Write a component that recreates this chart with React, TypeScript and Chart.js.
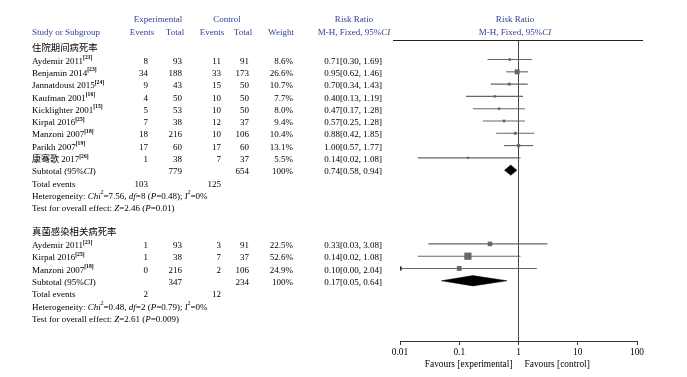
import React, { useEffect, useRef } from "react";
import { Chart, registerables } from "chart.js";

Chart.register(...registerables);

// ---------- DATA ----------
const group1Title = "住院期间病死率";
const group1Studies = ["Aydemir 2011", "Benjamin 2014", "Jannatdoust 2015", "Kaufman 2001", "Kicklighter 2001", "Kirpal 2016", "Manzoni 2007", "Parikh 2007", "康骞歌 2017"];
const group1Refs = ["21", "23", "24", "16", "15", "25", "18", "19", "26"];
const group1ExpEvents = [8, 34, 9, 4, 5, 7, 18, 17, 1];
const group1ExpTotal = [93, 188, 43, 50, 53, 38, 216, 60, 38];
const group1CtrlEvents = [11, 33, 15, 10, 10, 12, 10, 17, 7];
const group1CtrlTotal = [91, 173, 50, 50, 50, 37, 106, 60, 37];
const group1Weight = [8.6, 26.6, 10.7, 7.7, 8.0, 9.4, 10.4, 13.1, 5.5];
const group1RR = [0.71, 0.95, 0.70, 0.40, 0.47, 0.57, 0.88, 1.00, 0.14];
const group1Lo = [0.30, 0.62, 0.34, 0.13, 0.17, 0.25, 0.42, 0.57, 0.02];
const group1Hi = [1.69, 1.46, 1.43, 1.19, 1.28, 1.28, 1.85, 1.77, 1.08];
const group1Subtotal = { exp: 779, ctrl: 654, rr: 0.74, lo: 0.58, hi: 0.94, expEv: 103, ctrlEv: 125 };
const group1Het = { chi: "7.56", df: "8", p: "0.48", i2: "0" };
const group1Test = { z: "2.46", p: "0.01" };

const group2Title = "真菌感染相关病死率";
const group2Studies = ["Aydemir 2011", "Kirpal 2016", "Manzoni 2007"];
const group2Refs = ["21", "25", "18"];
const group2ExpEvents = [1, 1, 0];
const group2ExpTotal = [93, 38, 216];
const group2CtrlEvents = [3, 7, 2];
const group2CtrlTotal = [91, 37, 106];
const group2Weight = [22.5, 52.6, 24.9];
const group2RR = [0.33, 0.14, 0.10];
const group2Lo = [0.03, 0.02, 0.00];
const group2Hi = [3.08, 1.08, 2.04];
const group2Subtotal = { exp: 347, ctrl: 234, rr: 0.17, lo: 0.05, hi: 0.64, expEv: 2, ctrlEv: 12 };
const group2Het = { chi: "0.48", df: "2", p: "0.79", i2: "0" };
const group2Test = { z: "2.61", p: "0.009" };

const axisTicks = [0.01, 0.1, 1, 10, 100];
const axisTickLabels = ["0.01", "0.1", "1", "10", "100"];
const favoursLeft = "Favours [experimental]";
const favoursRight = "Favours [control]";

// ---------- LAYOUT ----------
const FONT = '"Liberation Serif", "Noto Sans CJK SC", serif';
const BLUE = "#2f3f96";
const FS = 9;
const X_MIN = 0.01;
const X_MAX = 100;

const groups = [
  { title: group1Title, start: 0, studies: group1Studies, refs: group1Refs, ee: group1ExpEvents, et: group1ExpTotal, ce: group1CtrlEvents, ct: group1CtrlTotal, w: group1Weight, rr: group1RR, lo: group1Lo, hi: group1Hi, sub: group1Subtotal, het: group1Het, test: group1Test },
  { title: group2Title, start: 15, studies: group2Studies, refs: group2Refs, ee: group2ExpEvents, et: group2ExpTotal, ce: group2CtrlEvents, ct: group2CtrlTotal, w: group2Weight, rr: group2RR, lo: group2Lo, hi: group2Hi, sub: group2Subtotal, het: group2Het, test: group2Test },
];

const COL = { study: 32, ee: 148, et: 182, ce: 221, ct: 249, w: 293, rr: 382 };

type Seg = { t: string; i?: boolean; sup?: boolean; b?: boolean };

function drawRich(ctx: CanvasRenderingContext2D, x: number, y: number, segs: Seg[], align: string, size: number, color: string) {
  const fontFor = (s: Seg) => `${s.i ? "italic " : ""}${s.b ? "bold " : ""}${s.sup ? (size * 0.62).toFixed(2) : size}px ${FONT}`;
  let w = 0;
  for (const s of segs) {
    ctx.font = fontFor(s);
    w += ctx.measureText(s.t).width;
  }
  let cx = align === "left" ? x : align === "right" ? x - w : x - w / 2;
  ctx.fillStyle = color;
  ctx.textBaseline = "middle";
  ctx.textAlign = "left";
  for (const s of segs) {
    ctx.font = fontFor(s);
    ctx.fillText(s.t, cx, s.sup ? y - size * 0.4 : y);
    cx += ctx.measureText(s.t).width;
  }
}

const fmt2 = (v: number) => v.toFixed(2);
const rrText = (r: number, l: number, h: number) => `${fmt2(r)}[${fmt2(l)}, ${fmt2(h)}]`;

const tablePlugin = {
  id: "forestTable",
  afterDraw(chart: any) {
    const ctx: CanvasRenderingContext2D = chart.ctx;
    const ys = chart.scales.y;
    const xs = chart.scales.x;
    const area = chart.chartArea;
    const rowY = (r: number) => ys.getPixelForValue(r) + 1.8;
    ctx.save();

    // headers
    const h1 = 20, h2 = 33;
    drawRich(ctx, 158, h1, [{ t: "Experimental" }], "center", FS, BLUE);
    drawRich(ctx, 227, h1, [{ t: "Control" }], "center", FS, BLUE);
    drawRich(ctx, 354, h1, [{ t: "Risk Ratio" }], "center", FS, BLUE);
    drawRich(ctx, 515, h1, [{ t: "Risk Ratio" }], "center", FS, BLUE);
    drawRich(ctx, COL.study, h2, [{ t: "Study or Subgroup" }], "left", FS, BLUE);
    drawRich(ctx, 142, h2, [{ t: "Events" }], "center", FS, BLUE);
    drawRich(ctx, 175, h2, [{ t: "Total" }], "center", FS, BLUE);
    drawRich(ctx, 212, h2, [{ t: "Events" }], "center", FS, BLUE);
    drawRich(ctx, 243, h2, [{ t: "Total" }], "center", FS, BLUE);
    drawRich(ctx, 281, h2, [{ t: "Weight" }], "center", FS, BLUE);
    drawRich(ctx, 354, h2, [{ t: "M-H, Fixed, 95%" }, { t: "CI", i: true }], "center", FS, BLUE);
    drawRich(ctx, 515, h2, [{ t: "M-H, Fixed, 95%" }, { t: "CI", i: true }], "center", FS, BLUE);

    // header rule
    ctx.strokeStyle = "#222";
    ctx.lineWidth = 1.2;
    ctx.beginPath();
    ctx.moveTo(area.left - 7, Math.round(area.top) + 0.5);
    ctx.lineTo(area.right + 6, Math.round(area.top) + 0.5);
    ctx.stroke();

    const K = "#000";
    for (const g of groups) {
      drawRich(ctx, COL.study, rowY(g.start) - 0.5, [{ t: g.title }], "left", 9.4, K);
      g.studies.forEach((name, i) => {
        const y = rowY(g.start + 1 + i);
        drawRich(ctx, COL.study, y, [{ t: name }, { t: `[${g.refs[i]}]`, sup: true, b: true }], "left", FS, K);
        drawRich(ctx, COL.ee, y, [{ t: String(g.ee[i]) }], "right", FS, K);
        drawRich(ctx, COL.et, y, [{ t: String(g.et[i]) }], "right", FS, K);
        drawRich(ctx, COL.ce, y, [{ t: String(g.ce[i]) }], "right", FS, K);
        drawRich(ctx, COL.ct, y, [{ t: String(g.ct[i]) }], "right", FS, K);
        drawRich(ctx, COL.w, y, [{ t: `${g.w[i].toFixed(1)}%` }], "right", FS, K);
        drawRich(ctx, COL.rr, y, [{ t: rrText(g.rr[i], g.lo[i], g.hi[i]) }], "right", FS, K);
      });
      const n = g.studies.length;
      const ySub = rowY(g.start + 1 + n);
      drawRich(ctx, COL.study, ySub, [{ t: "Subtotal (95%" }, { t: "CI", i: true }, { t: ")" }], "left", FS, K);
      drawRich(ctx, COL.et, ySub, [{ t: String(g.sub.exp) }], "right", FS, K);
      drawRich(ctx, COL.ct, ySub, [{ t: String(g.sub.ctrl) }], "right", FS, K);
      drawRich(ctx, COL.w, ySub, [{ t: "100%" }], "right", FS, K);
      drawRich(ctx, COL.rr, ySub, [{ t: rrText(g.sub.rr, g.sub.lo, g.sub.hi) }], "right", FS, K);
      const yTot = rowY(g.start + 2 + n);
      drawRich(ctx, COL.study, yTot, [{ t: "Total events" }], "left", FS, K);
      drawRich(ctx, COL.ee, yTot, [{ t: String(g.sub.expEv) }], "right", FS, K);
      drawRich(ctx, COL.ce, yTot, [{ t: String(g.sub.ctrlEv) }], "right", FS, K);
      const yHet = rowY(g.start + 3 + n);
      drawRich(ctx, COL.study, yHet, [
        { t: "Heterogeneity: " }, { t: "Chi", i: true }, { t: "2", sup: true }, { t: `=${g.het.chi}, ` },
        { t: "df", i: true }, { t: `=${g.het.df} (` }, { t: "P", i: true }, { t: `=${g.het.p}); ` },
        { t: "I", i: true }, { t: "2", sup: true }, { t: `=${g.het.i2}%` },
      ], "left", FS, K);
      const yTest = rowY(g.start + 4 + n);
      drawRich(ctx, COL.study, yTest, [
        { t: "Test for overall effect: " }, { t: "Z", i: true }, { t: `=${g.test.z} (` }, { t: "P", i: true }, { t: `=${g.test.p})` },
      ], "left", FS, K);
    }

    // favours labels
    const x1 = xs.getPixelForValue(1);
    drawRich(ctx, x1 - 6, 365, [{ t: favoursLeft }], "right", 9.4, K);
    drawRich(ctx, x1 + 6, 365, [{ t: favoursRight }], "left", 9.4, K);
    ctx.restore();
  },
};

function buildDatasets() {
  const squares: any[] = [];
  const squareSizes: number[] = [];
  const ciSets: any[] = [];
  const diamonds: any[] = [];
  const DH = 0.42; // diamond half-height in row units
  for (const g of groups) {
    g.studies.forEach((_, i) => {
      const row = g.start + 1 + i;
      squares.push({ x: g.rr[i], y: row });
      const side = Math.max(2.2, 1.08 * Math.sqrt(g.w[i]) - 0.6);
      squareSizes.push(side / Math.SQRT2);
      const clipped = g.lo[i] < X_MIN;
      ciSets.push({
        type: "scatter",
        data: [{ x: Math.max(g.lo[i], X_MIN), y: row }, { x: g.hi[i], y: row }],
        showLine: true,
        borderColor: "#666",
        borderWidth: 1.1,
        pointRadius: [clipped ? 3 : 0, 0],
        pointStyle: "triangle",
        rotation: 270,
        pointBackgroundColor: "#222",
        pointBorderColor: "#222",
        pointBorderWidth: 0,
        order: 3,
      });
    });
    const r = g.start + 1 + g.studies.length;
    diamonds.push({
      type: "scatter",
      data: [
        { x: g.sub.lo, y: r },
        { x: g.sub.rr, y: r - DH },
        { x: g.sub.hi, y: r },
        { x: g.sub.rr, y: r + DH },
        { x: g.sub.lo, y: r },
      ],
      showLine: true,
      fill: "shape",
      backgroundColor: "#000",
      borderColor: "#000",
      borderWidth: 0.5,
      pointRadius: 0,
      tension: 0,
      order: 1,
    });
  }
  const squareSet = {
    type: "scatter",
    data: squares,
    pointStyle: "rect",
    pointRadius: squareSizes,
    pointBackgroundColor: "#666",
    pointBorderColor: "#666",
    pointBorderWidth: 0,
    showLine: false,
    order: 0,
  };
  const refLine = {
    type: "scatter",
    data: [{ x: 1, y: -0.59 }, { x: 1, y: 23.9 }],
    showLine: true,
    borderColor: "#444",
    borderWidth: 1,
    pointRadius: 0,
    order: 5,
  };
  return [squareSet, ...diamonds, ...ciSets, refLine];
}

export default function App() {
  const ref = useRef<HTMLCanvasElement | null>(null);
  useEffect(() => {
    if (!ref.current) return;
    const chart = new Chart(ref.current, {
      type: "scatter",
      data: { datasets: buildDatasets() as any },
      options: {
        animation: false,
        responsive: false,
        events: [],
        layout: { padding: { left: 400, right: 50, top: 40, bottom: 0 } },
        plugins: { legend: { display: false }, tooltip: { enabled: false } },
        scales: {
          x: {
            type: "logarithmic",
            min: X_MIN,
            max: X_MAX,
            position: "bottom",
            afterBuildTicks: (s: any) => {
              s.ticks = axisTicks.map((v) => ({ value: v }));
            },
            afterFit: (s: any) => {
              s.height = 36;
            },
            ticks: {
              autoSkip: false,
              maxRotation: 0,
              padding: 2,
              color: "#000",
              font: { family: FONT, size: 9.4 },
              callback: (v: any) => {
                const idx = axisTicks.findIndex((t) => Math.abs(t - Number(v)) < 1e-9);
                return idx >= 0 ? axisTickLabels[idx] : "";
              },
            },
            grid: { drawOnChartArea: false, drawTicks: true, tickLength: 4, color: "#333" },
            border: { display: true, color: "#333", width: 1 },
          },
          y: { type: "linear", display: false, min: -0.59, max: 23.9, reverse: true },
        },
      } as any,
      plugins: [tablePlugin],
    });
    return () => chart.destroy();
  }, []);
  return (
    <div style={{ position: "fixed", left: 0, top: 0, width: 687, height: 377, background: "#fff" }}>
      <canvas ref={ref} width={687} height={377} />
    </div>
  );
}
